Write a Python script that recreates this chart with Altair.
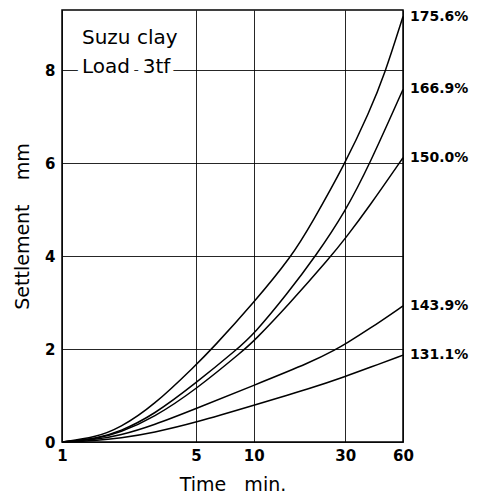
import altair as alt
import pandas as pd

# Settlement–time curves for Suzu clay under a 3 tf load (log time axis)
series_names = ["175.6%", "166.9%", "150.0%", "143.9%", "131.1%"]

t_1756 = [1, 1.5, 2, 3, 5, 6.1, 10, 15.8, 20, 30, 40, 48, 60]
s_1756 = [0, 0.10, 0.30, 0.78, 1.66, 2.02, 3.0, 4.0, 4.7, 6.0, 7.1, 7.9, 9.16]

t_1669 = [1, 1.5, 2, 3, 5, 8.2, 10, 15, 21, 30, 40, 60]
s_1669 = [0, 0.07, 0.22, 0.58, 1.27, 2.0, 2.32, 3.2, 4.0, 4.96, 5.96, 7.59]

t_1500 = [1, 1.5, 2, 3, 5, 9, 10, 15, 25.3, 30, 40, 60]
s_1500 = [0, 0.06, 0.20, 0.52, 1.13, 2.0, 2.17, 2.93, 4.0, 4.38, 5.07, 6.12]

t_1439 = [1, 1.5, 2, 3, 5, 10, 20, 27, 30, 40, 60]
s_1439 = [0, 0.05, 0.14, 0.36, 0.72, 1.22, 1.72, 2.0, 2.11, 2.43, 2.93]

t_1311 = [1, 1.5, 2, 3, 5, 10, 20, 30, 40, 60]
s_1311 = [0, 0.03, 0.08, 0.20, 0.42, 0.79, 1.16, 1.41, 1.60, 1.87]

x_ticks = [1, 5, 10, 30, 60]
y_ticks = [0, 2, 4, 6, 8]

note_lines = ["Suzu clay", "Load\u00a0\u00a03tf"]

series_t = [t_1756, t_1669, t_1500, t_1439, t_1311]
series_s = [s_1756, s_1669, s_1500, s_1439, s_1311]

rows = []
for name, ts, ss in zip(series_names, series_t, series_s):
    for t, s in zip(ts, ss):
        rows.append({"series": name, "t": t, "s": s})
df = pd.DataFrame(rows)

ends = pd.DataFrame(
    {"series": series_names,
     "t": [ts[-1] for ts in series_t],
     "s": [ss[-1] for ss in series_s]}
)

FONT = "DejaVu Sans"

x_enc = alt.X(
    "t:Q",
    scale=alt.Scale(type="log", domain=[1, 60], nice=False),
    axis=alt.Axis(
        values=x_ticks, format="d", grid=True, ticks=False, domain=False,
        labelFont=FONT, labelFontWeight="bold", labelFontSize=15,
        labelColor="black", labelPadding=6, labelFlush=False,
        labelOverlap=False, labelBound=False,
        gridColor="black", gridWidth=1, gridOpacity=0.85,
        title="Time\u00a0\u00a0\u00a0min.", titleFont=FONT, titleFontSize=19,
        titleFontWeight="normal", titleColor="black",
        titleY=48, titleBaseline="alphabetic",
    ),
)
y_enc = alt.Y(
    "s:Q",
    scale=alt.Scale(domain=[0, 9.3], nice=False, zero=True),
    axis=alt.Axis(
        values=y_ticks, grid=True, ticks=False, domain=False,
        labelFont=FONT, labelFontWeight="bold", labelFontSize=15,
        labelColor="black", labelPadding=7,
        gridColor="black", gridWidth=1, gridOpacity=0.85,
        title="Settlement\u00a0\u00a0\u00a0\u00a0mm", titleFont=FONT,
        titleFontSize=19, titleFontWeight="normal", titleColor="black",
        titleX=-40, titleBaseline="middle",
    ),
)

curves = alt.Chart(df).mark_line(
    color="black", strokeWidth=1.5, interpolate="basis"
).encode(x=x_enc, y=y_enc, detail="series:N")

end_labels = alt.Chart(ends).mark_text(
    align="left", baseline="middle", dx=7, font=FONT,
    fontWeight="bold", fontSize=14, color="black"
).encode(x=alt.X("t:Q"), y=alt.Y("s:Q"), text="series:N")


def note(text, baseline_y, halo):
    style = dict(align="left", baseline="alphabetic", font=FONT, fontSize=20)
    if halo:
        style.update(color="white", stroke="white", strokeWidth=12)
    else:
        style.update(color="black")
    return alt.Chart(pd.DataFrame({"line": [text]})).mark_text(**style).encode(
        x=alt.value(20), y=alt.value(baseline_y), text="line:N"
    )


layers = [curves, end_labels]
for halo in (True, False):
    layers.append(note(note_lines[0], 34, halo))
    layers.append(note(note_lines[1], 62.5, halo))

chart = alt.layer(*layers).properties(
    width=341, height=432,
    autosize=alt.AutoSizeParams(type="none"),
    padding={"left": 62, "top": 10, "right": 80, "bottom": 52},
    background="white",
).configure_view(stroke="black", strokeWidth=1.5)

chart.save("out.html", embed_options={"renderer": "svg", "actions": False})
